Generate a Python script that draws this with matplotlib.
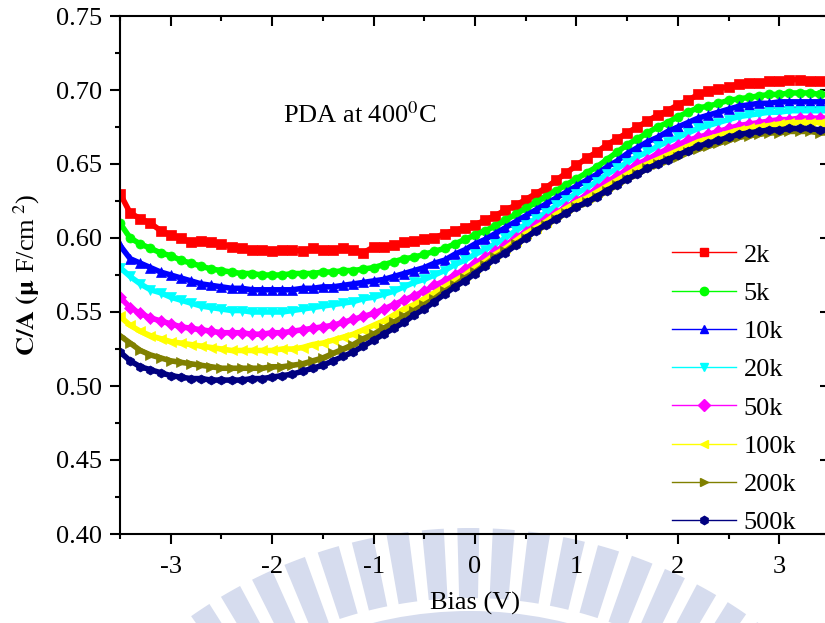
import matplotlib
matplotlib.use('Agg')
import matplotlib.pyplot as plt
from matplotlib.lines import Line2D
from matplotlib.patches import Wedge
from matplotlib.ticker import MultipleLocator, FormatStrFormatter
import numpy as np

plt.rcParams['font.family'] = ['Liberation Serif', 'DejaVu Serif']
plt.rcParams['mathtext.fontset'] = 'stix'
plt.rcParams['axes.unicode_minus'] = False

# bias sweep, -3.5 V .. 3.5 V in 0.1 V steps
bias = np.round(np.arange(-35, 36) * 0.1, 2)

cap_2k = [0.630, 0.617, 0.613, 0.610, 0.605, 0.602, 0.600, 0.597, 0.598, 0.597,
          0.596, 0.594, 0.593, 0.592, 0.592, 0.591, 0.592, 0.592, 0.591, 0.593,
          0.592, 0.592, 0.593, 0.592, 0.590, 0.594, 0.594, 0.595, 0.597, 0.598,
          0.599, 0.600, 0.603, 0.605, 0.607, 0.609, 0.612, 0.615, 0.619, 0.622,
          0.626, 0.630, 0.634, 0.639, 0.644, 0.649, 0.654, 0.658, 0.663, 0.667,
          0.671, 0.675, 0.679, 0.683, 0.686, 0.690, 0.693, 0.697, 0.699, 0.701,
          0.702, 0.704, 0.705, 0.705, 0.706, 0.706, 0.707, 0.707, 0.706, 0.706,
          0.705]
cap_5k = [0.610, 0.600, 0.596, 0.593, 0.590, 0.588, 0.585, 0.583, 0.581, 0.579,
          0.578, 0.577, 0.576, 0.576, 0.575, 0.575, 0.575, 0.576, 0.576, 0.576,
          0.577, 0.577, 0.578, 0.578, 0.579, 0.580, 0.582, 0.584, 0.586, 0.587,
          0.589, 0.591, 0.593, 0.596, 0.599, 0.602, 0.605, 0.608, 0.612, 0.616,
          0.620, 0.624, 0.628, 0.632, 0.636, 0.640, 0.644, 0.648, 0.653, 0.658,
          0.663, 0.667, 0.671, 0.675, 0.678, 0.682, 0.685, 0.688, 0.689, 0.691,
          0.693, 0.694, 0.695, 0.696, 0.697, 0.697, 0.698, 0.698, 0.698, 0.697,
          0.697]
cap_10k = [0.595, 0.586, 0.583, 0.580, 0.577, 0.575, 0.573, 0.571, 0.569, 0.568,
           0.567, 0.566, 0.566, 0.565, 0.565, 0.565, 0.565, 0.565, 0.566, 0.566,
           0.567, 0.567, 0.568, 0.569, 0.570, 0.571, 0.572, 0.574, 0.576, 0.578,
           0.580, 0.583, 0.585, 0.589, 0.592, 0.596, 0.599, 0.603, 0.607, 0.611,
           0.615, 0.619, 0.623, 0.627, 0.631, 0.635, 0.639, 0.643, 0.648, 0.652,
           0.657, 0.661, 0.665, 0.668, 0.672, 0.675, 0.678, 0.681, 0.683, 0.685,
           0.687, 0.689, 0.690, 0.691, 0.691, 0.692, 0.692, 0.692, 0.692, 0.692,
           0.692]
cap_20k = [0.580, 0.574, 0.569, 0.565, 0.563, 0.560, 0.558, 0.556, 0.554, 0.553,
           0.552, 0.551, 0.551, 0.550, 0.550, 0.550, 0.550, 0.551, 0.552, 0.553,
           0.554, 0.555, 0.556, 0.557, 0.559, 0.560, 0.562, 0.564, 0.567, 0.570,
           0.572, 0.575, 0.578, 0.582, 0.585, 0.589, 0.592, 0.596, 0.600, 0.605,
           0.609, 0.613, 0.617, 0.622, 0.626, 0.630, 0.634, 0.638, 0.643, 0.647,
           0.651, 0.655, 0.658, 0.662, 0.665, 0.668, 0.671, 0.674, 0.676, 0.678,
           0.680, 0.682, 0.683, 0.684, 0.685, 0.685, 0.686, 0.686, 0.686, 0.686,
           0.686]
cap_50k = [0.560, 0.553, 0.549, 0.546, 0.544, 0.542, 0.540, 0.539, 0.538, 0.537,
           0.536, 0.536, 0.536, 0.535, 0.535, 0.536, 0.536, 0.537, 0.538, 0.539,
           0.540, 0.541, 0.543, 0.545, 0.547, 0.549, 0.552, 0.555, 0.558, 0.561,
           0.564, 0.568, 0.571, 0.575, 0.579, 0.583, 0.587, 0.591, 0.595, 0.600,
           0.604, 0.609, 0.613, 0.617, 0.621, 0.625, 0.629, 0.633, 0.638, 0.642,
           0.646, 0.650, 0.653, 0.657, 0.660, 0.663, 0.666, 0.668, 0.670, 0.672,
           0.674, 0.676, 0.677, 0.678, 0.679, 0.680, 0.680, 0.681, 0.681, 0.681,
           0.681]
cap_100k = [0.547, 0.541, 0.537, 0.534, 0.532, 0.530, 0.529, 0.528, 0.527, 0.526,
            0.525, 0.524, 0.524, 0.524, 0.524, 0.524, 0.525, 0.525, 0.526, 0.528,
            0.529, 0.531, 0.533, 0.535, 0.538, 0.541, 0.544, 0.548, 0.552, 0.555,
            0.559, 0.563, 0.567, 0.571, 0.575, 0.580, 0.584, 0.589, 0.593, 0.598,
            0.603, 0.607, 0.611, 0.616, 0.620, 0.624, 0.627, 0.631, 0.635, 0.639,
            0.643, 0.647, 0.650, 0.653, 0.656, 0.659, 0.662, 0.665, 0.667, 0.669,
            0.671, 0.673, 0.674, 0.675, 0.676, 0.677, 0.678, 0.678, 0.678, 0.678,
            0.678]
cap_200k = [0.534, 0.529, 0.524, 0.521, 0.519, 0.517, 0.516, 0.515, 0.514, 0.513,
            0.512, 0.512, 0.512, 0.512, 0.512, 0.513, 0.513, 0.514, 0.515, 0.517,
            0.519, 0.522, 0.525, 0.528, 0.532, 0.535, 0.539, 0.543, 0.547, 0.551,
            0.555, 0.559, 0.564, 0.568, 0.573, 0.577, 0.582, 0.587, 0.591, 0.596,
            0.600, 0.605, 0.609, 0.613, 0.617, 0.621, 0.624, 0.628, 0.632, 0.636,
            0.640, 0.643, 0.647, 0.650, 0.653, 0.655, 0.658, 0.660, 0.662, 0.664,
            0.666, 0.668, 0.669, 0.670, 0.671, 0.671, 0.672, 0.672, 0.672, 0.671,
            0.671]
cap_500k = [0.523, 0.517, 0.513, 0.511, 0.509, 0.507, 0.506, 0.505, 0.505, 0.504,
            0.504, 0.504, 0.504, 0.505, 0.505, 0.506, 0.507, 0.508, 0.510, 0.512,
            0.514, 0.517, 0.520, 0.523, 0.527, 0.531, 0.535, 0.539, 0.543, 0.548,
            0.552, 0.557, 0.562, 0.567, 0.571, 0.576, 0.581, 0.586, 0.590, 0.595,
            0.600, 0.605, 0.609, 0.613, 0.617, 0.621, 0.624, 0.628, 0.632, 0.636,
            0.640, 0.643, 0.647, 0.650, 0.653, 0.656, 0.659, 0.662, 0.664, 0.666,
            0.668, 0.670, 0.671, 0.672, 0.673, 0.673, 0.674, 0.674, 0.674, 0.673,
            0.673]

labels = ['2k', '5k', '10k', '20k', '50k', '100k', '200k', '500k']
series = [cap_2k, cap_5k, cap_10k, cap_20k, cap_50k, cap_100k, cap_200k, cap_500k]
colors = ['#FF0000', '#00FF00', '#0000FF', '#00FFFF', '#FF00FF', '#FFFF00', '#808000', '#000080']
markers = ['s', 'o', '^', 'v', 'D', '<', '>', 'h']

fig = plt.figure(figsize=(8.25, 6.23), dpi=100)

# pale watermark behind the bottom of the figure
wm = fig.add_axes([0, 0, 1, 1], zorder=-1)
wm.set_xlim(0, 825)
wm.set_ylim(623, 0)
wm.axis('off')
wm_col = '#d6dcee'
for ang in np.arange(232, 310, 4.2):
    wm.add_patch(Wedge((470, 1013), 485, ang - 1.3, ang + 1.3, width=70,
                       color=wm_col, lw=0))
wm.add_patch(Wedge((470, 1013), 402, 225, 315, width=30, color=wm_col, lw=0))

ax = fig.add_axes([120/825, 89/623, 710/825, 518/623])
ax.set_facecolor('none')

handles = []
for y, c, m, lab in zip(series, colors, markers, labels):
    ax.plot(bias, y, color=c, lw=4, marker=m, ms=6.5, mec=c, mfc=c, mew=0.5)
    handles.append(Line2D([], [], color=c, lw=1, marker=m, ms=6, mec=c, mfc=c, label=lab))

ax.set_xlim(-3.5, 3.5)
ax.set_ylim(0.40, 0.75)
ax.xaxis.set_major_locator(MultipleLocator(1))
ax.xaxis.set_minor_locator(MultipleLocator(0.5))
ax.yaxis.set_major_locator(MultipleLocator(0.05))
ax.yaxis.set_minor_locator(MultipleLocator(0.025))
ax.yaxis.set_major_formatter(FormatStrFormatter('%.2f'))

for s in ax.spines.values():
    s.set_linewidth(1.5)
ax.tick_params(axis='both', which='major', direction='out', length=7, width=1.5,
               labelsize=19)
ax.tick_params(axis='x', which='major', pad=9)
ax.tick_params(axis='y', which='major', pad=6)
ax.tick_params(axis='both', which='minor', direction='out', length=3.5, width=1.5)
ax.tick_params(top=True, right=True, which='both')

# top/right ticks point inward
for t in ax.xaxis.get_major_ticks() + ax.xaxis.get_minor_ticks():
    t.tick2line.set_marker(matplotlib.lines.TICKDOWN)
for t in ax.yaxis.get_major_ticks() + ax.yaxis.get_minor_ticks():
    t.tick2line.set_marker(matplotlib.lines.TICKLEFT)

ax.set_xlabel('Bias (V)', fontsize=19, labelpad=10)
ax.set_ylabel(r'$\mathbf{C/A\ (\mu}$ F/cm$^{\ 2}$)', fontsize=19, labelpad=10)

fig.text(283/825, 1 - 115/623, r'PDA at 400$^{0}$C', fontsize=19,
         va='center', ha='left')

fig.legend(handles=handles, loc='upper left', bbox_to_anchor=(659/825, 1 - 230/623),
           frameon=False, fontsize=19, handlelength=2.4, handletextpad=0.3,
           labelspacing=0.56, borderpad=0, numpoints=1)

fig.savefig('out.png', dpi=100)
